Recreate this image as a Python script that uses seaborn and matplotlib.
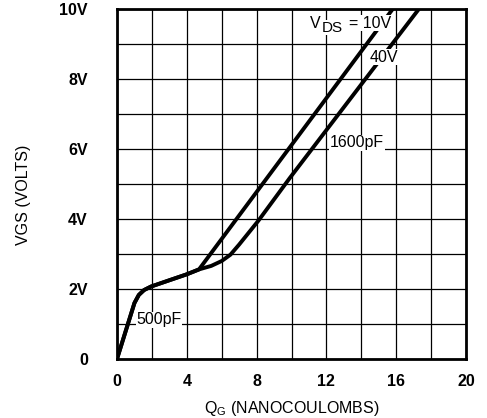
import numpy as np
import pandas as pd
import matplotlib
matplotlib.use("Agg")
import matplotlib.pyplot as plt
import seaborn as sns


# gate charge curves
q_10v = [0, 0.5, 1.0, 1.25, 1.55, 1.95, 3.0, 4.0, 4.7, 15.8]
v_10v = [0, 0.8, 1.6, 1.83, 1.97, 2.07, 2.25, 2.42, 2.56, 10.0]

q_40v = [0, 0.5, 1.0, 1.25, 1.55, 1.95, 3.0, 4.0, 4.7, 5.4, 6.0, 6.5, 7.0, 8.1, 9.9, 17.3]
v_40v = [0, 0.8, 1.6, 1.83, 1.97, 2.07, 2.25, 2.42, 2.56, 2.66, 2.8, 2.98, 3.27, 3.95, 5.17, 10.0]

x_ticks = [0, 4, 8, 12, 16, 20]
x_tick_labels = ["0", "4", "8", "12", "16", "20"]
y_ticks = [0, 2, 4, 6, 8, 10]
y_tick_labels = ["0", "2V", "4V", "6V", "8V", "10V"]


def main():

    sns.set_style("white")
    plt.rcParams["font.family"] = ["Liberation Sans", "DejaVu Sans"]
    plt.rcParams["mathtext.fontset"] = "custom"
    plt.rcParams["mathtext.rm"] = "Liberation Sans"
    plt.rcParams["mathtext.sf"] = "Liberation Sans"
    plt.rcParams["text.color"] = "black"
    plt.rcParams["axes.labelcolor"] = "black"
    plt.rcParams["xtick.color"] = "black"
    plt.rcParams["ytick.color"] = "black"

    fig = plt.figure(figsize=(4.87, 4.18), dpi=100)
    ax = fig.add_axes([117 / 487, 1 - 359 / 418, (466 - 117) / 487, (359 - 9) / 418])

    df = pd.concat([
        pd.DataFrame({"q": q_10v, "v": v_10v, "vds": "10V"}),
        pd.DataFrame({"q": q_40v, "v": v_40v, "vds": "40V"}),
    ])

    sns.lineplot(
        data=df, x="q", y="v", hue="vds",
        palette=["black", "black"],
        sort=False, estimator=None,
        linewidth=2.8, legend=False, ax=ax,
        solid_joinstyle="round", solid_capstyle="round",
        zorder=3
    )

    ax.set_xlim(0, 20)
    ax.set_ylim(0, 10)

    ax.set_xticks(x_ticks)
    ax.set_xticklabels(x_tick_labels, fontsize=11.5, fontweight="bold")
    ax.set_xticks(np.arange(0, 21, 2), minor=True)
    ax.set_yticks(y_ticks)
    ax.set_yticklabels(y_tick_labels, fontsize=11.5, fontweight="bold")
    ax.set_yticks(np.arange(0, 11, 1), minor=True)

    ax.tick_params(axis="both", which="both", length=0)
    ax.tick_params(axis="x", pad=11)
    ax.tick_params(axis="y", pad=21)

    ax.grid(True, which="both", color="black", linewidth=0.9)
    ax.set_axisbelow(True)

    for s in ax.spines.values():
        s.set_visible(True)
        s.set_color("black")
        s.set_linewidth(2)

    ax.set_xlabel(r"Q$_{\mathsf{G}}$ (NANOCOULOMBS)", fontsize=11.5)
    ax.set_ylabel("VGS (VOLTS)", fontsize=11.5)
    ax.xaxis.set_label_coords(0.5, -0.115)
    ax.yaxis.set_label_coords(-0.245, 0.47)

    # curve annotations (white box hides the line under the text)
    box = dict(facecolor="white", edgecolor="none", pad=0.5)
    ax.text(11.06, 9.6, "V", fontsize=11.5, va="center", ha="left",
            zorder=4, bbox=box)
    ax.text(11.75, 9.47, "DS", fontsize=11, va="center", ha="left",
            zorder=4, bbox=box)
    ax.text(13.3, 9.6, "= 10V", fontsize=11.5, va="center", ha="left",
            zorder=4, bbox=box)
    ax.text(14.5, 8.62, "40V", fontsize=11.5, va="center", ha="left",
            zorder=4, bbox=box)
    ax.text(12.2, 6.18, "1600pF", fontsize=11.5, va="center", ha="left",
            zorder=4, bbox=box)
    ax.text(1.1, 1.12, "500pF", fontsize=11.5, va="center", ha="left",
            zorder=4, bbox=box)

    fig.savefig("out.png", dpi=100)
    plt.close(fig)


if __name__ == "__main__":

    main()
